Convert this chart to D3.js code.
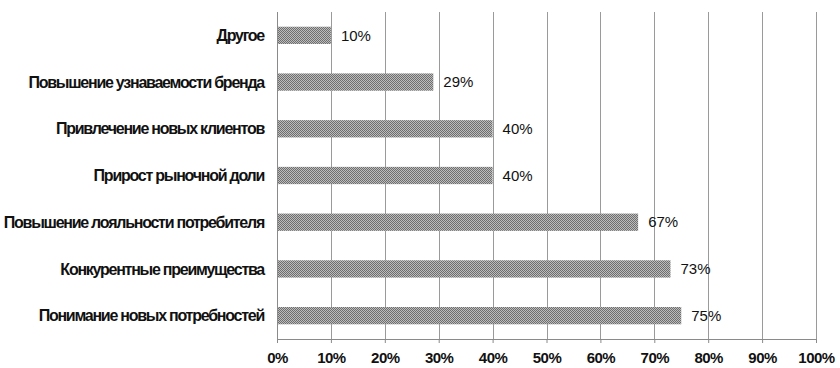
<!DOCTYPE html>
<meta charset="utf-8">
<style>
body { margin: 0; background: white; }
text { font-family: "Liberation Sans", Arial, sans-serif; }
</style>
<div id="chart"></div>
<script src="https://d3js.org/d3.v7.min.js"></script>
<script>
// categories top to bottom and their shares (%)
var categories = ["Другое", "Повышение узнаваемости бренда", "Привлечение новых клиентов",
  "Прирост рыночной доли", "Повышение лояльности потребителя",
  "Конкурентные преимущества", "Понимание новых потребностей"];
var values = [10, 29, 40, 40, 67, 73, 75];
var ticks = [0, 10, 20, 30, 40, 50, 60, 70, 80, 90, 100];

var width = 840, height = 368;
var margin = {top: 12, right: 24, bottom: 29, left: 277};

var svg = d3.select("#chart").append("svg")
  .attr("width", width)
  .attr("height", height);

// dotted fill for the bars
var pat = svg.append("defs").append("pattern")
  .attr("id", "dots")
  .attr("width", 2).attr("height", 2)
  .attr("patternUnits", "userSpaceOnUse");
pat.append("rect").attr("width", 2).attr("height", 2).attr("fill", "#bcbcbc");
pat.append("rect").attr("width", 1).attr("height", 1).attr("fill", "#6e6e6e");
pat.append("rect").attr("x", 1).attr("y", 1).attr("width", 1).attr("height", 1).attr("fill", "#6e6e6e");

var x = d3.scaleLinear().domain([0, 100]).range([margin.left, 816]);
var y = d3.scaleBand().domain(categories)
  .range([margin.top, height - margin.bottom])
  .paddingInner(0.63).paddingOuter(0.315);

// gridlines
svg.selectAll(".grid")
  .data(ticks.slice(1))
  .enter().append("line")
    .attr("x1", function(d) { return Math.round(x(d)) + 0.5; })
    .attr("x2", function(d) { return Math.round(x(d)) + 0.5; })
    .attr("y1", margin.top)
    .attr("y2", height - margin.bottom)
    .attr("stroke", "#9a9a9a");

// bars
svg.selectAll(".bar")
  .data(values)
  .enter().append("rect")
    .attr("x", x(0))
    .attr("y", function(d, i) { return y(categories[i]); })
    .attr("width", function(d) { return x(d) - x(0); })
    .attr("height", y.bandwidth())
    .attr("fill", "url(#dots)");

// value labels
svg.selectAll(".val")
  .data(values)
  .enter().append("text")
    .attr("x", function(d) { return x(d) + 10; })
    .attr("y", function(d, i) { return y(categories[i]) + y.bandwidth() / 2; })
    .attr("dy", "0.35em")
    .style("font-size", "15px")
    .attr("fill", "#111")
    .text(function(d) { return d + "%"; });

// category labels (condensed like the original)
svg.selectAll(".cat")
  .data(categories)
  .enter().append("text")
    .attr("x", 264)
    .attr("y", function(d) { return y(d) + y.bandwidth() / 2; })
    .attr("dy", "0.35em")
    .attr("text-anchor", "end")
    .style("font-size", "16px")
    .style("font-weight", "bold")
    .style("letter-spacing", "-1.25px")
    .attr("fill", "#111")
    .text(function(d) { return d; });

// left axis line
svg.append("line")
  .attr("x1", Math.round(x(0)) + 0.5).attr("x2", Math.round(x(0)) + 0.5)
  .attr("y1", margin.top).attr("y2", height - margin.bottom)
  .attr("stroke", "#8a8a8a");

// bottom axis
var xAxis = svg.append("g")
  .attr("transform", "translate(0," + (height - margin.bottom) + ")")
  .call(d3.axisBottom(x).tickValues(ticks).tickSize(4).tickFormat(function(d) { return d + "%"; }));
xAxis.select(".domain").attr("stroke", "#8a8a8a");
xAxis.selectAll(".tick line").attr("stroke", "#8a8a8a");
xAxis.selectAll(".tick text")
  .attr("y", 13)
  .style("font-size", "15px")
  .style("font-weight", "bold")
  .style("letter-spacing", "-0.5px")
  .attr("fill", "#111");
</script>
